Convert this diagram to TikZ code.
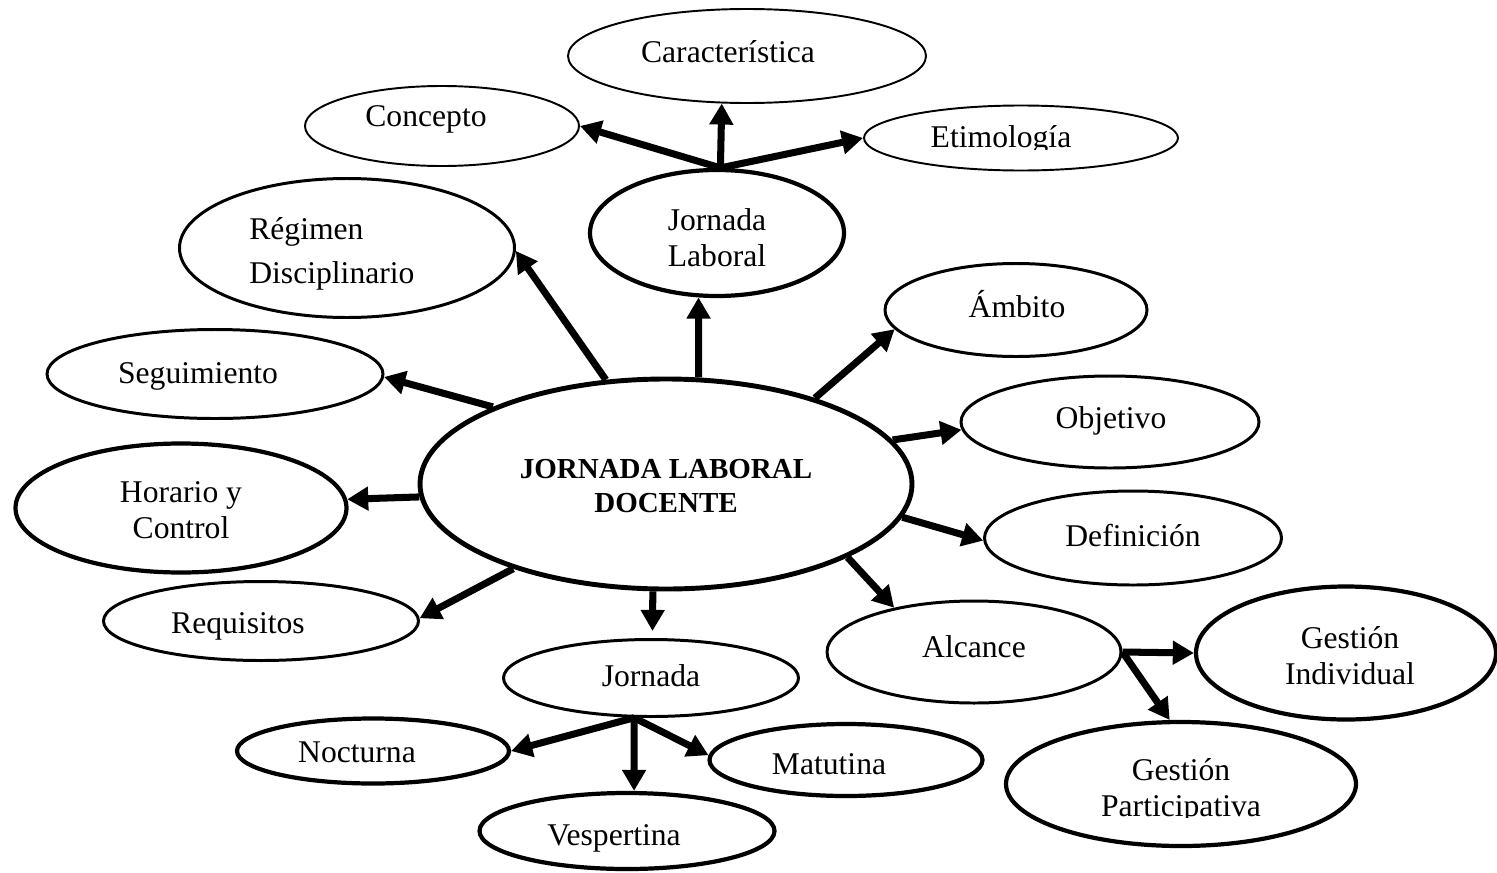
\documentclass[tikz,border=0pt]{standalone}
\usepackage{fontspec}
\setmainfont{Liberation Serif}
\usetikzlibrary{shapes.geometric,arrows.meta}

\tikzset{
  bub/.style={ellipse, draw, inner sep=0pt, line width=1.7pt},
  thinbub/.style={bub, line width=1.1pt},
  thickbub/.style={bub, line width=2.4pt},
  sz/.style 2 args={minimum width=#1*0.02cm, minimum height=#2*0.02cm},
  lbl/.style={font=\fontsize{18}{20.5}\selectfont, align=center, inner sep=0pt},
  word/.style={lbl, anchor=base},
  link/.style={line width=4pt, -{Triangle[length=12pt,width=13pt]}}
}

\begin{document}
\begin{tikzpicture}[x=0.02cm,y=-0.02cm]
    \useasboundingbox (0,0) rectangle (1497,872);

    % Centre
    \node[bub, sz={492}{210}, line width=2.8pt] (docente) at (666,484) {};
    \node[lbl, font=\bfseries\fontsize{16.5}{19.8}\selectfont] (docente-t) at (666,486) {JORNADA LABORAL\\DOCENTE};

    % Upper group
    \node[thickbub, sz={254}{126}] (jl) at (717,233) {};
    \node[lbl] (jl-t) at (717,238) {Jornada\\Laboral};
    \node[thinbub, sz={358}{94}] (car) at (747,56) {};
    \node[word] (car-t) at (728,62) {Característica};
    \node[thinbub, sz={274}{80}] (con) at (442,126) {};
    \node[word] (con-t) at (426,126) {Concepto};
    \node[thinbub, sz={314}{65}] (eti) at (1021,138) {};
    \begin{scope}
        \clip (900,100) rectangle (1100,149);
        \node[word] (eti-t) at (1001,147) {Etimología};
    \end{scope}

    % Left group
    \node[bub, sz={335}{139}] (reg) at (347,248) {};
    \node[lbl, align=left, anchor=west, font=\fontsize{18}{25}\selectfont] (reg-t) at (249,254) {Régimen\\Disciplinario};
    \node[bub, sz={336}{89}] (seg) at (215,374) {};
    \node[word] (seg-t) at (198,383) {Seguimiento};
    \node[thickbub, sz={331}{129}] (hor) at (181,508) {};
    \node[lbl] (hor-t) at (181,510) {Horario y\\Control};
    \node[bub, sz={315}{79}] (req) at (261,621) {};
    \node[word] (req-t) at (238,633) {Requisitos};

    % Right group
    \node[bub, sz={262}{93}] (amb) at (1016,310) {};
    \node[word] (amb-t) at (1017,317) {Ámbito};
    \node[bub, sz={298}{92}] (obj) at (1110,422) {};
    \node[word] (obj-t) at (1111,428) {Objetivo};
    \node[bub, sz={297}{94}] (def) at (1133,538) {};
    \node[word] (def-t) at (1133,546) {Definición};
    \node[bub, sz={294}{102}] (alc) at (974,652) {};
    \node[word] (alc-t) at (974,657) {Alcance};
    \node[thickbub, sz={300}{133}] (gi) at (1346,653) {};
    \node[lbl] (gi-t) at (1350,656) {Gestión\\Individual};
    \node[thickbub, sz={350}{124}] (gp) at (1181,784) {};
    \begin{scope}
        \clip (1050,740) rectangle (1320,817);
        \node[lbl] (gp-t) at (1181,791) {Gestión\\Participativa};
    \end{scope}

    % Lower group
    \node[bub, sz={295}{77}] (jor) at (651,678) {};
    \node[word] (jor-t) at (651,686) {Jornada};
    \node[thickbub, sz={272}{65}] (noc) at (373,751) {};
    \node[word] (noc-t) at (357,762) {Nocturna};
    \node[thickbub, sz={273}{72}] (mat) at (846,760) {};
    \node[word] (mat-t) at (829,774) {Matutina};
    \node[thickbub, sz={295}{76}] (ves) at (627,831) {};
    \node[word] (ves-t) at (614,845) {Vespertina};

    % Arrows from the centre
    \draw[link] (docente.73) -- (jl.254);
    \draw[link] (docente.120) -- (reg.359);
    \draw[link] (docente.156) -- (seg.359);
    \draw[link] (docente.183) -- (hor.3);
    \draw[link] (docente.209) -- (req.1);
    \draw[link, shorten >=4pt] (docente.263) -- (jor.88);
    \draw[link] (docente.30) -- (amb.189);
    \draw[link] (docente.11) -- (obj.183);
    \draw[link] (docente.352) -- (def.181);
    \draw[link] (docente.338) -- (alc.151);

    % Sub-branches
    \draw[link] (jl.87) -- (con.east);
    \draw[link] (jl.87) -- (car.242);
    \draw[link] (jl.87) -- (eti.west);
    \draw[link] (alc.east) -- (gi.west);
    \draw[link] (alc.east) -- (gp.100);
    \draw[link] (jor.247) -- (noc.east);
    \draw[link] (jor.247) -- (ves.80);
    \draw[link] (jor.247) -- (mat.178);
\end{tikzpicture}
\end{document}
